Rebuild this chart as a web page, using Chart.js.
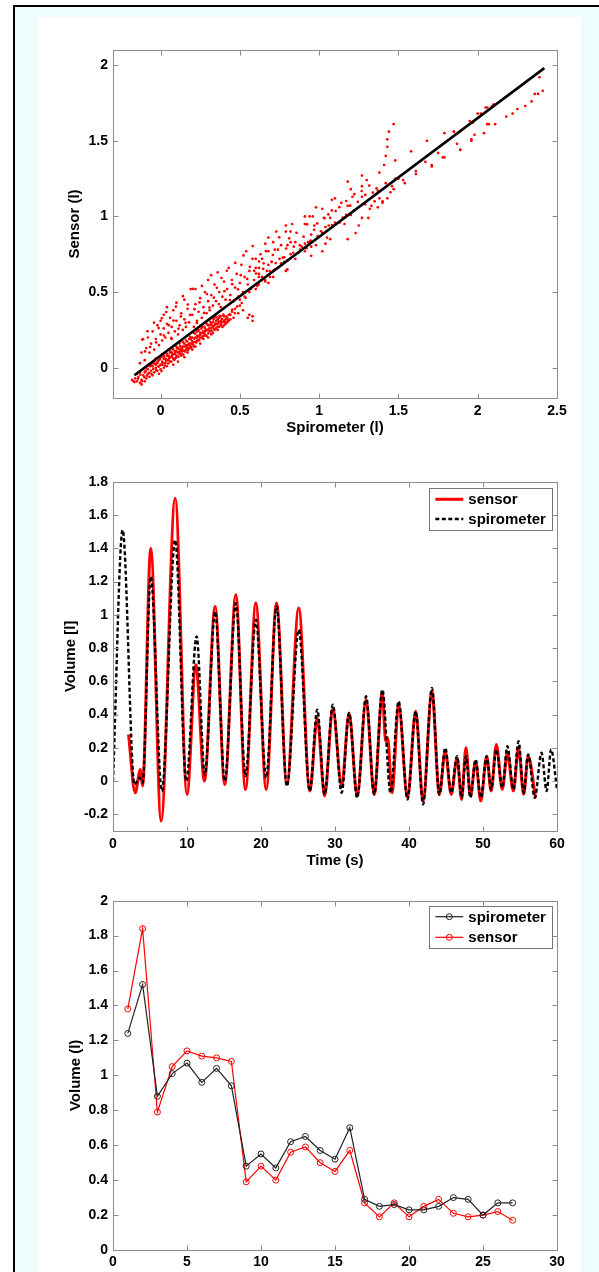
<!DOCTYPE html>
<html>
<head>
<meta charset="utf-8">
<script src="https://cdn.jsdelivr.net/npm/chart.js@4.4.1/dist/chart.umd.min.js"></script>
<style>
  html, body { margin: 0; padding: 0; background: #fff; }
  #page { position: relative; width: 599px; height: 1272px; overflow: hidden; background: #fff; }
  #frame { position: absolute; left: 13px; top: 5px; right: 0; bottom: 0; background: #eefcfd;
           border-left: 2px solid #000; border-top: 2px solid #000; }
  #panel { position: absolute; left: 38px; top: 17px; width: 543px; height: 1255px; background: #fff; }
  canvas { position: absolute; left: 38px; }
</style>
</head>
<body>
<div id="page">
  <div id="frame"></div>
  <div id="panel"></div>
  <canvas id="c1" style="top:17px" width="543" height="423"></canvas>
  <canvas id="c2" style="top:440px" width="543" height="430"></canvas>
  <canvas id="c3" style="top:870px" width="543" height="402"></canvas>
</div>
<script>
// --- panel 1: sensor vs spirometer scatter ---
var scatterLow = [
  [-0.18,-0.08],[-0.17,-0.09],[-0.16,-0.07],[-0.15,-0.09],[-0.14,-0.06],[-0.13,-0.1],[-0.12,-0.11],[-0.12,-0.08],
  [-0.11,-0.05],[-0.1,-0.09],[-0.1,-0.03],[-0.09,-0.07],[-0.08,-0.04],[-0.08,-0.01],[-0.07,-0.06],[-0.06,-0.02],
  [-0.06,0.02],[-0.05,-0.05],[-0.05,0.01],[-0.04,-0.03],[-0.04,0.04],[-0.03,0.0],[-0.03,0.06],[-0.02,-0.02],
  [-0.02,0.03],[-0.01,0.05],[-0.01,-0.04],[0,0.02],[0,0.07],[0,-0.01],[0.01,0.04],[0.01,0.09],[0.02,0.0],
  [0.02,0.06],[0.03,0.03],[0.03,0.1],[0.04,0.05],[0.04,0.01],[0.05,0.08],[0.05,0.12],[0.06,0.04],[0.06,0.1],
  [0.07,0.07],[0.07,0.13],[0.08,0.02],[0.08,0.09],[0.09,0.11],[0.09,0.06],[0.1,0.14],[0.1,0.08],[0.11,0.1],
  [0.11,0.04],[0.12,0.12],[0.12,0.16],[0.13,0.08],[0.13,0.13],[0.14,0.11],[0.14,0.17],[0.15,0.14],[0.15,0.07],
  [0.16,0.12],[0.16,0.18],[0.17,0.15],[0.17,0.1],[0.18,0.19],[0.18,0.13],[0.19,0.16],[0.2,0.12],[0.2,0.2],
  [0.21,0.17],[0.21,0.23],[0.22,0.14],[0.22,0.2],[0.23,0.18],[0.23,0.24],[0.24,0.21],[0.25,0.16],[0.25,0.23],
  [0.26,0.2],[0.26,0.27],[0.27,0.24],[0.27,0.19],[0.28,0.26],[0.28,0.22],[0.29,0.29],[0.3,0.25],[0.3,0.2],
  [0.31,0.28],[0.31,0.32],[0.32,0.26],[0.33,0.3],[0.33,0.23],[0.34,0.28],[0.34,0.33],[0.35,0.31],[0.35,0.26],
  [0.36,0.29],[0.37,0.33],[0.37,0.27],[0.38,0.31],[0.39,0.3],[0.4,0.34],[0.4,0.28],[0.41,0.32],[0.42,0.3],
  [0.43,0.35],[0.44,0.32],[0.45,0.37],[0.46,0.33],[0.47,0.39],[0.49,0.36],[0.5,0.41],[0.52,0.38],[0.55,0.33],
  [0.56,0.35],[0.58,0.34],[0.58,0.31],
  [-0.15,-0.04],[-0.13,-0.03],[-0.11,-0.01],[-0.09,0.0],[-0.07,0.01],[-0.05,0.03],[-0.03,0.02],[-0.01,0.01],
  [0.01,0.02],[0.02,0.08],[0.03,0.06],[0.04,0.08],[0.05,0.05],[0.06,0.07],[0.07,0.1],[0.08,0.06],[0.09,0.09],
  [0.1,0.11],[0.11,0.13],[0.12,0.09],[0.13,0.11],[0.14,0.14],[0.15,0.11],[0.16,0.15],[0.17,0.13],[0.18,0.16],
  [0.19,0.13],[0.19,0.19],[0.2,0.16],[0.21,0.14],[0.22,0.17],[0.23,0.21],[0.24,0.18],[0.24,0.25],[0.25,0.2],
  [0.26,0.23],[0.27,0.21],[0.28,0.24],[0.29,0.25],[0.29,0.21],[0.3,0.28],[0.31,0.24],[0.32,0.29],[0.32,0.22],
  [0.33,0.27],[0.34,0.25],[0.35,0.29],[0.36,0.32],[0.36,0.25],[0.37,0.3],[0.38,0.28],[0.38,0.34],[0.39,0.27],
  [0.4,0.31],[0.41,0.29],[0.42,0.33],[0.43,0.31],[0.44,0.35],
  [0.5,0.45],[0.53,0.47],[0.56,0.5],[0.6,0.52],[0.62,0.55],[0.64,0.58]
];
var scatterDense = [
  [-0.165,-0.095],[-0.142,-0.072],[-0.128,-0.045],[-0.118,-0.088],[-0.103,-0.062],[-0.094,-0.021],[-0.086,-0.052],
  [-0.072,-0.033],[-0.064,0.012],[-0.057,-0.041],[-0.046,-0.008],[-0.038,0.027],[-0.027,-0.016],[-0.019,0.041],
  [-0.012,0.008],[-0.004,0.058],[0.006,-0.022],[0.013,0.031],[0.019,0.072],[0.027,0.014],[0.034,0.047],
  [0.041,0.092],[0.048,0.028],[0.053,0.063],[0.061,0.108],[0.068,0.041],[0.073,0.082],[0.079,0.121],
  [0.086,0.052],[0.093,0.097],[0.098,0.066],[0.104,0.128],[0.112,0.073],[0.118,0.104],[0.124,0.142],
  [0.131,0.094],[0.137,0.122],[0.143,0.087],[0.149,0.161],[0.156,0.108],[0.163,0.139],[0.168,0.173],
  [0.174,0.117],[0.181,0.148],[0.187,0.204],[0.193,0.139],[0.198,0.176],[0.206,0.152],[0.212,0.193],
  [0.218,0.226],[0.225,0.167],[0.231,0.199],[0.237,0.242],[0.244,0.184],[0.251,0.217],[0.257,0.258],
  [0.263,0.196],[0.269,0.232],[0.276,0.271],[0.282,0.213],[0.288,0.246],[0.294,0.289],[0.301,0.227],
  [0.307,0.261],[0.314,0.302],[0.321,0.244],[0.327,0.276],[0.333,0.318],[0.339,0.257],[0.346,0.291],
  [0.352,0.336],[0.359,0.272],[0.366,0.305],[0.372,0.343],[0.381,0.289],[0.388,0.322],[0.396,0.351],
  [0.405,0.302],[0.414,0.339],[0.426,0.316],[0.437,0.352],[0.452,0.384],[0.468,0.361],[0.483,0.405],
  [0.512,0.428],[0.537,0.462]
];
var scatterUpper = [
  [-0.13,0.03],[-0.12,0.1],[-0.11,0.19],[-0.1,0.05],[-0.09,0.13],[-0.08,0.2],[-0.07,0.1],[-0.06,0.16],
  [-0.05,0.24],[-0.04,0.12],[-0.03,0.19],[-0.02,0.28],[-0.01,0.15],[0,0.22],[0,0.31],[0.01,0.18],[0.02,0.26],
  [0.02,0.35],[0.03,0.2],[0.04,0.29],[0.04,0.4],[0.05,0.23],[0.06,0.33],[0.07,0.19],[0.07,0.27],[0.08,0.38],
  [0.09,0.24],[0.1,0.31],[0.1,0.43],[0.11,0.22],[0.12,0.28],[0.13,0.36],[0.14,0.25],[0.15,0.32],[0.15,0.45],
  [0.16,0.27],[0.17,0.39],[0.18,0.3],[0.19,0.52],[0.2,0.35],[0.21,0.27],[0.22,0.42],[0.22,0.52],[0.23,0.31],
  [0.24,0.37],[0.25,0.46],[0.26,0.33],[0.27,0.4],[0.28,0.5],[0.29,0.36],[0.3,0.44],[0.3,0.58],[0.31,0.38],
  [0.32,0.48],[0.33,0.41],[0.34,0.55],[0.35,0.44],[0.36,0.63],[0.37,0.5],[0.38,0.4],[0.39,0.47],[0.4,0.57],
  [0.41,0.45],[0.42,0.52],[0.43,0.66],[0.44,0.48],[0.45,0.58],[0.46,0.44],[0.47,0.53],[0.48,0.62],[0.49,0.47],
  [0.5,0.56],[0.51,0.68],[0.52,0.5],[0.53,0.6],[0.54,0.77],[0.55,0.55],[0.56,0.64],[0.57,0.52],[0.58,0.72],
  [0.59,0.58],[0.6,0.66],[0.61,0.54],[0.62,0.62],[0.63,0.75],[0.64,0.6],[0.65,0.69],[0.66,0.57],[0.67,0.64],
  [0.68,0.86],[0.69,0.6],[0.7,0.7],[0.71,0.64],[0.72,0.78],[0.74,0.66],[0.75,0.72],[0.76,0.81],[0.78,0.7],
  [0.79,0.9],
  [-0.115,0.186],[-0.098,0.108],[-0.083,0.241],[-0.066,0.137],[-0.041,0.298],[-0.028,0.167],[-0.012,0.262],
  [0.008,0.327],[0.021,0.213],[0.036,0.368],[0.052,0.281],[0.067,0.196],[0.082,0.312],[0.097,0.404],
  [0.113,0.258],[0.128,0.339],[0.141,0.473],[0.158,0.297],[0.172,0.418],[0.186,0.349],[0.203,0.521],
  [0.214,0.387],[0.229,0.296],[0.246,0.432],[0.261,0.541],[0.274,0.362],[0.292,0.487],[0.308,0.398],
  [0.319,0.612],[0.336,0.463],[0.355,0.528],[0.368,0.421],[0.384,0.593],[0.403,0.506],[0.418,0.641],
  [0.437,0.447],[0.452,0.552],[0.471,0.693],[0.488,0.518],[0.506,0.612],[0.523,0.742],[0.546,0.587],
  [0.563,0.667],[0.581,0.804],[0.602,0.623],[0.621,0.702],[0.647,0.654],[0.664,0.771],[0.689,0.638],
  [0.708,0.745],[0.726,0.692],[0.748,0.862],[0.771,0.728],[0.792,0.788],[0.811,0.855],[0.836,0.76],
  [0.857,0.892],[0.878,0.81],[0.902,0.866],[0.924,0.948],[0.946,0.841],[0.968,0.912],[0.988,0.954],
  [1.012,0.902],[1.034,0.988],[1.058,1.013],[1.082,0.942],[1.104,1.036],[1.127,1.061],[1.149,0.993],
  [1.171,1.102],[1.196,1.071],[1.222,1.147],[1.244,1.096],[1.268,1.168],[1.291,1.142],[1.316,1.204],
  [1.339,1.157],[1.362,1.186]
];
var scatterMid = [
  [1.10,1.12],[1.08,1.11],[1.14,1.09],[1.27,1.13],[1.29,1.08],[1.33,1.07],[1.35,1.10],[1.38,1.12],[1.32,1.05],
  [1.31,0.99],[1.37,1.06],[1.40,1.09],[1.22,1.04],[1.18,1.07],[1.17,1.01],[1.20,1.01],[1.13,0.96],[1.10,0.96],
  [1.16,0.95],[1.25,0.94],[1.27,0.99],[1.23,0.89],[1.18,0.85],[1.02,1.05],[0.98,1.06],[1.03,0.99],[1.08,1.04],
  [1.07,0.99],[0.91,1.00],[0.94,1.00],[0.96,1.00],[0.91,0.95],[1.04,0.93],[1.06,0.94],[1.04,0.82],[1.07,0.85],
  [1.05,0.86],[0.99,0.87],[1.02,0.89],[0.97,0.94],[0.95,0.88],[0.98,0.81],[1.02,0.77],[0.95,0.80],[0.93,0.83],
  [0.92,0.79],[0.89,0.80],[0.91,0.77],[0.88,0.78],[0.85,0.83],[0.82,0.90],[0.83,0.95],[0.79,0.94],[0.82,0.83],
  [0.80,0.81],[0.84,0.80],[0.87,0.76],[0.85,0.72],[0.82,0.75],[0.80,0.71],[0.78,0.73],[0.76,0.69],[0.74,0.78],
  [0.71,0.83],[0.73,0.90],[0.68,0.77],[0.66,0.82],[0.70,0.70],[0.72,0.65],[0.68,0.68],[0.64,0.72],[0.62,0.66],
  [0.60,0.72],[0.62,0.60],[0.66,0.58],[0.68,0.56],[0.59,0.64],[0.71,0.60],[0.79,0.64],[0.80,0.65],[0.91,0.82],
  [0.95,0.74],[0.94,0.83],[1.18,1.23],[1.27,1.27],[1.20,1.18],[1.21,1.13],[1.30,1.24],[1.27,1.20]
];
var scatterHigh = [
  [1.47,1.61],[1.44,1.56],[1.43,1.51],[1.43,1.46],[1.42,1.40],[1.41,1.34],[1.38,1.29],[1.48,1.37],[1.58,1.43],
  [1.68,1.50],[1.67,1.36],[1.71,1.33],[1.75,1.42],[1.78,1.39],[1.85,1.56],[1.87,1.48],[1.89,1.44],[1.96,1.50],
  [1.97,1.62],[2.02,1.68],[2.04,1.55],[2.06,1.72],[2.06,1.61],[1.61,1.28],[1.54,1.22],[1.48,1.25],[1.46,1.20],
  [1.45,1.16],[1.43,1.12],[1.40,1.10],[1.37,1.17],[1.42,1.22],[2.41,1.83],[2.38,1.81],[2.36,1.81],[2.34,1.76],
  [2.30,1.73],[2.25,1.71],[2.22,1.68],[2.18,1.66],[2.11,1.61],[2.07,1.61],[1.98,1.54],[1.96,1.51],[1.89,1.44],
  [1.79,1.39],[1.71,1.34],[1.61,1.30],[1.53,1.24],[2.05,1.72],[2.00,1.68],[1.95,1.63],[1.85,1.56],[1.79,1.55],
  [2.10,1.74],[2.09,1.73],[2.39,1.92],[1.50,1.25],[1.47,1.18]
];
var fitX = [-0.165, 2.42];
var fitY = [-0.05, 1.98];
var scatterXTicks = [0, 0.5, 1, 1.5, 2, 2.5];
var scatterYTicks = [0, 0.5, 1, 1.5, 2];

// --- panel 2: volume traces over time ---
var spiroTime = [0, 1.3, 2.9, 3.6, 4.0, 5.1, 6.6, 8.4, 9.9, 11.3, 12.4, 13.8, 15.1, 16.6, 17.9, 19.3, 20.7,
  22.1, 23.5, 25.1, 26.6, 27.6, 28.6, 29.7, 30.9, 31.9, 33.0, 34.2, 35.3, 36.4, 37.5, 38.6, 39.8, 40.9, 41.9,
  43.1, 44.1, 44.9, 45.7, 46.5, 47.1, 47.7, 48.3, 49.0, 49.7, 50.5, 51.1, 51.8, 52.6, 53.3, 54.1, 54.8, 55.5,
  56.1, 57.0, 57.9, 58.6, 59.2, 60];
var spiroVol = [0.0, 1.51, -0.02, 0.02, -0.01, 1.23, -0.06, 1.45, 0.0, 0.87, 0.04, 1.02, 0.0, 1.07, 0.03, 0.97,
  0.02, 1.05, -0.03, 0.91, -0.06, 0.43, -0.08, 0.46, -0.07, 0.41, -0.1, 0.51, -0.08, 0.55, -0.07, 0.48, -0.11,
  0.42, -0.14, 0.56, -0.08, 0.2, -0.07, 0.15, -0.1, 0.15, -0.1, 0.13, -0.1, 0.15, -0.05, 0.19, -0.04, 0.21,
  -0.05, 0.24, -0.07, 0.16, -0.1, 0.17, -0.06, 0.19, -0.05];
var sensorTime = [2.1, 3.0, 3.7, 4.0, 5.1, 6.5, 8.4, 10.0, 11.2, 12.35, 13.8, 15.1, 16.6, 17.9, 19.3, 20.7, 22.1,
  23.5, 25.1, 26.6, 27.6, 28.6, 29.7, 30.9, 31.9, 33.0, 34.2, 35.3, 36.4, 36.85, 37.1, 37.7, 38.6, 39.8, 40.9,
  41.9, 43.1, 44.1, 44.9, 45.7, 46.5, 47.1, 47.7, 48.3, 49.0, 49.7, 50.5, 51.1, 51.8, 52.6, 53.3, 54.1, 54.8,
  55.5, 56.1, 57.1];
var sensorVol = [0.28, -0.07, 0.07, -0.03, 1.4, -0.24, 1.7, -0.08, 0.7, 0.0, 1.05, -0.02, 1.12, -0.05, 1.07,
  -0.05, 1.07, -0.02, 1.04, -0.06, 0.38, -0.09, 0.44, -0.03, 0.41, -0.09, 0.49, -0.08, 0.53, 0.24, 0.26, -0.07,
  0.46, -0.1, 0.42, -0.12, 0.54, -0.08, 0.18, -0.08, 0.14, -0.11, 0.2, -0.09, 0.12, -0.12, 0.15, -0.06, 0.22,
  -0.05, 0.17, -0.06, 0.2, -0.08, 0.15, -0.1];
var timeTicks = [0, 10, 20, 30, 40, 50, 60];
var traceYTicks = [-0.2, 0, 0.2, 0.4, 0.6, 0.8, 1, 1.2, 1.4, 1.6, 1.8];

// --- panel 3: volume per breath ---
var breathNo = [1, 2, 3, 4, 5, 6, 7, 8, 9, 10, 11, 12, 13, 14, 15, 16, 17, 18, 19, 20, 21, 22, 23, 24, 25, 26, 27];
var spiroBreath = [1.24, 1.52, 0.88, 1.01, 1.07, 0.96, 1.04, 0.94, 0.48, 0.55, 0.47, 0.62, 0.65, 0.57, 0.52, 0.70,
  0.29, 0.25, 0.26, 0.23, 0.23, 0.25, 0.30, 0.29, 0.20, 0.27, 0.27];
var sensorBreath = [1.38, 1.84, 0.79, 1.05, 1.14, 1.11, 1.10, 1.08, 0.39, 0.48, 0.40, 0.56, 0.59, 0.50, 0.45, 0.57,
  0.27, 0.19, 0.27, 0.19, 0.25, 0.29, 0.21, 0.19, 0.20, 0.22, 0.17];
var breathXTicks = [0, 5, 10, 15, 20, 25, 30];
var breathYTicks = [0, 0.2, 0.4, 0.6, 0.8, 1, 1.2, 1.4, 1.6, 1.8, 2];

Chart.defaults.font.family = '"Liberation Sans", Arial, sans-serif';
Chart.defaults.font.weight = 'bold';
Chart.defaults.color = '#000';

function toPoints(xs, ys) {
  return xs.map(function (x, i) { return { x: x, y: ys[i] }; });
}
function pairsToPoints(list) {
  return list.map(function (p) { return { x: p[0], y: p[1] }; });
}
function fmt(v) { return String(+v.toFixed(2)); }

// matlab style box with inward ticks on all four sides
var matlabBox = {
  id: 'matlabBox',
  afterDraw: function (chart) {
    var ctx = chart.ctx, a = chart.chartArea, sx = chart.scales.x, sy = chart.scales.y;
    var L = Math.round(a.left) + 0.5, R = Math.round(a.right) + 0.5;
    var T = Math.round(a.top) + 0.5, B = Math.round(a.bottom) + 0.5;
    ctx.save();
    ctx.strokeStyle = '#8c8c8c';
    ctx.lineWidth = 1;
    ctx.setLineDash([]);
    ctx.strokeRect(L, T, R - L, B - T);
    ctx.beginPath();
    sx.ticks.forEach(function (t) {
      var px = Math.round(sx.getPixelForValue(t.value)) + 0.5;
      ctx.moveTo(px, B); ctx.lineTo(px, B - 5);
      ctx.moveTo(px, T); ctx.lineTo(px, T + 5);
    });
    sy.ticks.forEach(function (t) {
      var py = Math.round(sy.getPixelForValue(t.value)) + 0.5;
      ctx.moveTo(L, py); ctx.lineTo(L + 5, py);
      ctx.moveTo(R, py); ctx.lineTo(R - 5, py);
    });
    ctx.stroke();
    ctx.restore();
  }
};

// legend box drawn inside the plot, top right
var boxLegend = {
  id: 'boxLegend',
  afterDraw: function (chart, args, o) {
    if (!o || !o.order) return;
    var ctx = chart.ctx, a = chart.chartArea;
    var x0 = a.right - o.right - o.width, y0 = a.top + o.top;
    ctx.save();
    ctx.fillStyle = '#fff';
    ctx.fillRect(x0, y0, o.width, o.height);
    ctx.strokeStyle = '#777';
    ctx.lineWidth = 1;
    ctx.strokeRect(Math.round(x0) + 0.5, Math.round(y0) + 0.5, Math.round(o.width), Math.round(o.height));
    o.order.forEach(function (di, i) {
      var ds = chart.data.datasets[di];
      var cy = y0 + o.rowTop + i * o.rowGap;
      ctx.strokeStyle = ds.borderColor;
      ctx.lineWidth = ds.borderWidth;
      ctx.setLineDash(ds.borderDash || []);
      ctx.beginPath();
      ctx.moveTo(x0 + 6, cy);
      ctx.lineTo(x0 + 34, cy);
      ctx.stroke();
      ctx.setLineDash([]);
      if (ds.pointRadius) {
        ctx.lineWidth = ds.pointBorderWidth || 1;
        ctx.beginPath();
        ctx.arc(x0 + 20, cy, ds.pointRadius, 0, Math.PI * 2);
        ctx.stroke();
      }
      ctx.fillStyle = '#000';
      ctx.font = 'bold 15px "Liberation Sans", Arial, sans-serif';
      ctx.textBaseline = 'middle';
      ctx.textAlign = 'left';
      ctx.fillText(ds.label, x0 + 39, cy + 1);
    });
    ctx.restore();
  }
};

// p: chart area and axis placement inside the canvas
function axesOptions(p) {
  return {
    responsive: false,
    animation: false,
    events: [],
    layout: { padding: { left: 0, top: p.top, right: p.w - p.right, bottom: p.h - p.bottom - p.xAxisH } },
    plugins: { legend: { display: false }, tooltip: { enabled: false }, boxLegend: p.legend || {} },
    scales: {
      x: {
        type: 'linear', min: p.xMin, max: p.xMax,
        grid: { display: false, drawTicks: false }, border: { display: false },
        afterBuildTicks: function (s) { s.ticks = p.xTicks.map(function (v) { return { value: v }; }); },
        afterFit: function (s) { s.height = p.xAxisH; },
        ticks: { padding: p.xTickPad, font: { size: 14, weight: 'bold' }, maxRotation: 0, callback: fmt },
        title: { display: !!p.xTitle, text: p.xTitle, font: { size: 15, weight: 'bold' },
                 padding: { top: 0, bottom: p.xTitlePad } }
      },
      y: {
        type: 'linear', min: p.yMin, max: p.yMax,
        grid: { display: false, drawTicks: false }, border: { display: false },
        afterBuildTicks: function (s) { s.ticks = p.yTicks.map(function (v) { return { value: v }; }); },
        afterFit: function (s) { s.width = p.left; },
        ticks: { padding: 5, font: { size: 14, weight: 'bold' }, callback: fmt },
        title: { display: true, text: p.yTitle, font: { size: 15, weight: 'bold' },
                 padding: { top: p.yTitlePad, bottom: 0 } }
      }
    }
  };
}

// panel 1
new Chart(document.getElementById('c1'), {
  type: 'scatter',
  data: {
    datasets: [
      { label: 'fit', data: toPoints(fitX, fitY), showLine: true, borderColor: '#000', borderWidth: 2.6,
        pointRadius: 0 },
      { label: 'data',
        data: pairsToPoints(scatterLow.concat(scatterDense, scatterUpper, scatterMid, scatterHigh)),
        pointRadius: 1.35, pointBorderWidth: 0, backgroundColor: '#ff0000', borderColor: '#ff0000' }
    ]
  },
  options: axesOptions({ w: 543, h: 423, left: 75, right: 519, top: 33, bottom: 381, xAxisH: 40,
    xMin: -0.3, xMax: 2.5, yMin: -0.2, yMax: 2.1, xTicks: scatterXTicks, yTicks: scatterYTicks,
    xTickPad: 5, xTitle: 'Spirometer (l)', xTitlePad: 1, yTitle: 'Sensor (l)', yTitlePad: 27.5 }),
  plugins: [matlabBox]
});

// panel 2
new Chart(document.getElementById('c2'), {
  type: 'line',
  data: {
    datasets: [
      { label: 'spirometer', data: toPoints(spiroTime, spiroVol), borderColor: '#000', borderWidth: 2.4,
        borderDash: [4, 2.5], pointRadius: 0, cubicInterpolationMode: 'monotone' },
      { label: 'sensor', data: toPoints(sensorTime, sensorVol), borderColor: '#ff0000', borderWidth: 3,
        pointRadius: 0, cubicInterpolationMode: 'monotone' }
    ]
  },
  options: axesOptions({ w: 543, h: 430, left: 75, right: 519, top: 41.7, bottom: 391, xAxisH: 39,
    xMin: 0, xMax: 60, yMin: -0.3, yMax: 1.8, xTicks: timeTicks, yTicks: traceYTicks,
    xTickPad: 5, xTitle: 'Time (s)', xTitlePad: 0.3, yTitle: 'Volume [l]', yTitlePad: 23.7,
    legend: { order: [1, 0], right: 4.7, top: 6, width: 123, height: 42, rowTop: 11.6, rowGap: 19.7 } }),
  plugins: [matlabBox, boxLegend]
});

// panel 3
new Chart(document.getElementById('c3'), {
  type: 'line',
  data: {
    datasets: [
      { label: 'spirometer', data: toPoints(breathNo, spiroBreath), borderColor: '#222', borderWidth: 1.2,
        pointRadius: 3, pointBorderWidth: 1, pointBackgroundColor: 'rgba(0,0,0,0)', pointBorderColor: '#222' },
      { label: 'sensor', data: toPoints(breathNo, sensorBreath), borderColor: '#ff0000', borderWidth: 1.2,
        pointRadius: 3, pointBorderWidth: 1, pointBackgroundColor: 'rgba(0,0,0,0)', pointBorderColor: '#ff0000' }
    ]
  },
  options: axesOptions({ w: 543, h: 402, left: 75, right: 519, top: 30.7, bottom: 380, xAxisH: 22,
    xMin: 0, xMax: 30, yMin: 0, yMax: 2, xTicks: breathXTicks, yTicks: breathYTicks,
    xTickPad: 4, xTitle: '', xTitlePad: 0, yTitle: 'Volume (l)', yTitlePad: 28.6,
    legend: { order: [0, 1], right: 4.7, top: 5, width: 123, height: 42, rowTop: 11, rowGap: 20.6 } }),
  plugins: [matlabBox, boxLegend]
});
</script>
</body>
</html>
